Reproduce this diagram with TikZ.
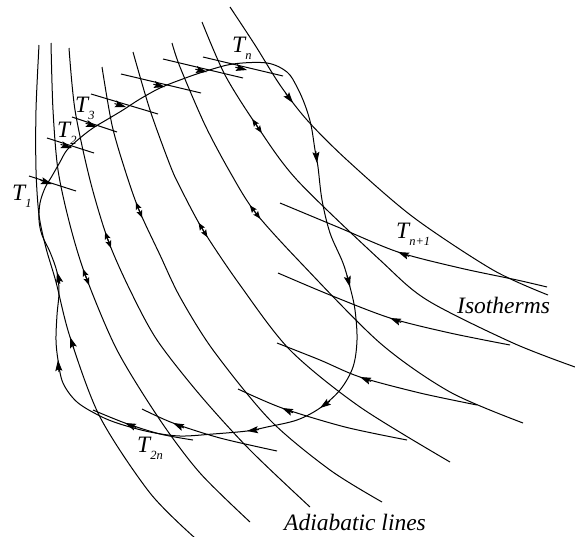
\documentclass[tikz,border=0pt]{standalone}
\usepackage{fontspec}
\setmainfont{Liberation Serif}
\usetikzlibrary{arrows.meta,calc}
\newcommand\tipat[4]{\draw[tipst] ($(#1,#2)!12pt!({#1-(#3)},{#2-(#4)})$) -- (#1,#2);}
\newcommand\dblat[4]{%
  \draw[dblst] (#1,#2) -- ($(#1,#2)!8.5pt!({#1+(#3)},{#2+(#4)})$);
  \draw[dblst] (#1,#2) -- ($(#1,#2)!8.5pt!({#1-(#3)},{#2-(#4)})$);}
\newcommand\subs[1]{\raisebox{-0.3em}{\fontsize{12.5}{12.5}\selectfont #1}}
\begin{document}
\begin{tikzpicture}[x=1pt,y=-1pt,
  curve/.style={line width=1pt, black},
  tipst/.style={line width=1pt,-{Stealth[length=11pt,width=7pt,inset=2pt]}},
  dblst/.style={line width=1pt,-{Stealth[length=7.5pt,width=6pt,inset=1.5pt]}},
  lbl/.style={inner sep=0pt, anchor=base west, font=\fontsize{23.5}{27}\selectfont\itshape}]
\useasboundingbox (0,0) rectangle (575,536);
\begin{scope}
\clip (0,0) rectangle (575,536);
% adiabatic lines
\draw[curve] plot[smooth] coordinates {(39,45) (36,110) (36,170) (39,215) (46,248) (56,282) (70,337) (100,417) (150,493) (195,538)};
\draw[curve] plot[smooth] coordinates {(51,43) (53,110) (58,170) (70,225) (86,277) (117,350) (160,420) (200,473) (250,522)};
\draw[curve] plot[smooth] coordinates {(69,48) (75,110) (90,180) (108,240) (130,290) (157,340) (200,395) (250,450) (310,507)};
\draw[curve] plot[smooth] coordinates {(102,67) (112,125) (125,170) (139,210) (160,255) (180,297) (213,350) (270,420) (330,470) (382,502)};
\draw[curve] plot[smooth] coordinates {(133,52) (150,110) (170,165) (180,187) (203,230) (240,285) (290,350) (360,407) (450,462)};
\draw[curve] plot[smooth] coordinates {(172,43) (180,67) (205,125) (230,172) (255,212) (300,262) (380,343) (450,392) (523,423)};
\draw[curve] plot[smooth] coordinates {(202,22) (225,75) (257,126) (297,180) (380,260) (427,300) (513,343) (575,367)};
\draw[curve] plot[smooth] coordinates {(230,7) (255,45) (280,85) (307,120) (347,160) (413,217) (493,270) (548,295)};
% the cycle
\draw[curve] plot[smooth cycle, tension=0.55] coordinates {(40,203) (45,188) (52,176) (60,162) (67,150) (80,138) (93,128) (108,119) (123,110) (140,99) (160,88) (180,80) (203,72) (233,64) (267,63) (287,72) (297,87) (305,105) (311,125) (315,150) (318,167) (322,200) (330,233) (343,263) (350,287) (355,310) (357,340) (353,367) (340,390) (320,408) (297,420) (267,427) (247,431) (213,434) (180,436) (150,432) (120,424) (100,416) (77,402) (63,383) (58,360) (56,340) (57,315) (59,292) (57,272) (50,252) (42,235) (39,220)};
% upper isotherms
\draw[curve] (29,176) -- (76,191);
\draw[curve] (47,138) -- (94,153);
\draw[curve] (72,117) -- (117,132);
\draw[curve] (91,94) -- (158,114);
\draw[curve] (121,74) -- (201,93);
\draw[curve] (163,59) -- (243,78);
\draw[curve] (203,57) -- (283,76);
% lower isotherms
\draw[curve] plot[smooth] coordinates {(280,203) (340,228) (398,252) (460,268) (517,280) (547,287)};
\draw[curve] plot[smooth] coordinates {(278,273) (330,295) (390,318) (450,333) (510,345)};
\draw[curve] plot[smooth] coordinates {(277,343) (320,360) (360,377) (420,393) (477,405)};
\draw[curve] plot[smooth] coordinates {(238,389) (282,408) (345,427) (407,440)};
\draw[curve] plot[smooth] coordinates {(142,409) (173,423) (220,438) (277,451)};
\draw[curve] plot[smooth] coordinates {(93,410) (125,423) (160,434) (193,440)};
\end{scope}
% arrows on upper isotherms
\tipat{52}{184}{47}{15}
\tipat{72}{148}{47}{15}
\tipat{97}{127}{45}{15}
\tipat{126}{107}{67}{20}
\tipat{165}{87}{80}{19}
\tipat{207}{72}{80}{19}
\tipat{247}{70}{80}{19}
% arrows on lower isotherms
\tipat{398}{252}{-38}{-15}
\tipat{390}{318}{-30}{-12}
\tipat{360}{377}{-40}{-16}
\tipat{282}{408}{-44}{-19}
\tipat{173}{423}{-31}{-14}
\tipat{125}{423}{-32}{-13}
% arrows on cycle
\tipat{317}{163}{3}{30}
\tipat{350}{287}{12}{47}
\tipat{320}{408}{-43}{30}
\tipat{247}{431}{-34}{4}
\tipat{58}{360}{-3}{-40}
\tipat{57}{272}{-5}{-20}
% arrows on adiabatic lines
\tipat{70}{337}{-20}{-60}
\tipat{293}{103}{27}{35}
\dblat{86}{277}{47}{125}
\dblat{108}{240}{40}{110}
\dblat{139}{210}{35}{85}
\dblat{203}{230}{60}{98}
\dblat{255}{212}{70}{90}
\dblat{257}{126}{72}{105}
% labels
\node[lbl] (t1) at (12,200) {T\subs{1}};
\node[lbl] (t2) at (57,137) {T\subs{2}};
\node[lbl] (t3) at (75,112) {T\subs{3}};
\node[lbl] (tn) at (232,52) {T\subs{n}};
\node[lbl] (tn1) at (396,238) {T\subs{n+1}};
\node[lbl] (t2n) at (137,452) {T\subs{2n}};
\node[lbl] (iso) at (457,313) {Isotherms};
\node[lbl] (adi) at (284,530) {Adiabatic lines};
\end{tikzpicture}
\end{document}
